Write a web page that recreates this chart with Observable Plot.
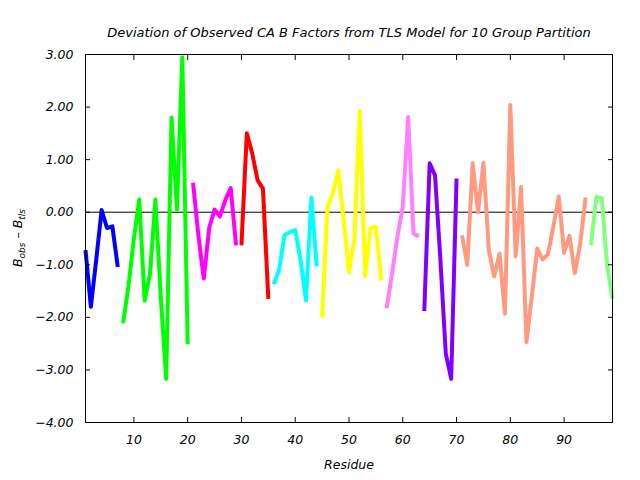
<!DOCTYPE html>
<html><head><meta charset="utf-8">
<script src="https://cdn.jsdelivr.net/npm/d3@7"></script>
<script src="https://cdn.jsdelivr.net/npm/@observablehq/plot@0.6"></script>
<style>html,body{margin:0;padding:0;background:#fff} svg{display:block}</style>
</head><body><div id="chart"></div>
<script>
const titleText = "Deviation of Observed CA B Factors from TLS Model for 10 Group Partition";
const xLabel = "Residue";
const groupNames = ["G1","G2","G3","G4","G5","G6","G7","G8","G9","G10"];
const groupFirstResidue = [1, 8, 21, 30, 36, 45, 57, 64, 71, 95];
const groupColors = ["#0000ff","#00ff00","#ff00ff","#ff0000","#00ffff","#ffff00","#ff80ff","#8000ff","#ff9980","#80ff80"];
const residues = d3.range(1, 100);
const deviation = [
  -0.72, -1.80, -0.90, 0.04, -0.30, -0.27, -1.04,
  -2.11, -1.40, -0.50, 0.24, -1.68, -1.17, 0.24, -1.61, -3.17, 1.80, 0.05, 2.95, -2.51,
  0.56, -0.45, -1.26, -0.30, 0.05, -0.08, 0.23, 0.46, -0.63,
  -0.63, 1.50, 1.12, 0.61, 0.45, -1.65,
  -1.37, -1.10, -0.44, -0.38, -0.34, -0.91, -1.68, 0.28, -1.03,
  -2.00, 0.10, 0.36, 0.80, -0.15, -1.14, -0.50, 1.93, -1.22, -0.30, -0.28, -1.30,
  -1.83, -1.17, -0.47, 0.10, 1.81, -0.41, -0.46,
  -1.88, 0.93, 0.70, -0.91, -2.69, -3.17, 0.64,
  -0.44, -1.00, 0.93, 0.00, 0.94, -0.72, -1.22, -0.79, -1.93, 2.04, -0.84, 0.48, -2.47, -1.60,
  -0.69, -0.90, -0.80, -0.28, 0.30, -0.77, -0.45, -1.16, -0.60, 0.28,
  -0.63, 0.29, 0.27, -1.01, -1.64
];
const yTicks = [-4, -3, -2, -1, 0, 1, 2, 3];
const xTicks = [10, 20, 30, 40, 50, 60, 70, 80, 90];

const data = residues.map((r, i) => ({
  residue: r,
  dev: deviation[i],
  group: groupNames[d3.bisectRight(groupFirstResidue, r) - 1]
}));

const M = {left: 85, right: 28, top: 54, bottom: 58};
const fmt = d3.format(".2f");

const chart = Plot.plot({
  width: 640, height: 480,
  marginLeft: M.left, marginRight: M.right, marginTop: M.top, marginBottom: M.bottom,
  style: {fontFamily: "'DejaVu Sans', sans-serif", fontSize: "12px", fontStyle: "italic", background: "white", color: "black"},
  x: {domain: [1, 99]},
  y: {domain: [-4, 3]},
  color: {domain: groupNames, range: groupColors},
  marks: [
    Plot.ruleY([0], {stroke: "black", strokeWidth: 1}),
    Plot.line(data, {x: "residue", y: "dev", z: "group", stroke: "group", strokeWidth: 4, strokeLinejoin: "round", strokeLinecap: "butt"}),
    Plot.frame({stroke: "black", strokeWidth: 1}),
    Plot.axisY(yTicks, {anchor: "left", tickSize: 0, tickPadding: 12, tickFormat: d => fmt(d), label: null, fontSize: 12.5, letterSpacing: "1px"}),
    Plot.axisY(yTicks, {anchor: "left", tickSize: -5, fill: "none", label: null}),
    Plot.axisY(yTicks, {anchor: "right", tickSize: -5, fill: "none", label: null}),
    Plot.axisX(xTicks, {anchor: "bottom", tickSize: 0, tickPadding: 13, label: null, fontSize: 12.5, letterSpacing: "1px"}),
    Plot.axisX(xTicks, {anchor: "bottom", tickSize: -5, fill: "none", label: null}),
    Plot.axisX(xTicks, {anchor: "top", tickSize: -5, fill: "none", label: null}),
    Plot.text([titleText], {frameAnchor: "top", dy: -27, fontSize: 13}),
    Plot.text([xLabel], {frameAnchor: "bottom", dy: 46, fontSize: 12.5})
  ]
});

const svg = d3.select(chart);
const cy = M.top + (480 - M.top - M.bottom) / 2;
const yl = svg.append("text")
  .attr("transform", `translate(${M.left - 67},${cy}) rotate(-90)`)
  .attr("text-anchor", "middle")
  .attr("dominant-baseline", "middle")
  .attr("font-size", "12.5px")
  .attr("fill", "black");
yl.append("tspan").text("B");
yl.append("tspan").attr("font-size", "9px").attr("dy", 4).text("obs");
yl.append("tspan").attr("dy", -4).text(" \u2013 B");
yl.append("tspan").attr("font-size", "9px").attr("dy", 4).text("tls");

document.getElementById("chart").appendChild(chart);
</script>
</body></html>
